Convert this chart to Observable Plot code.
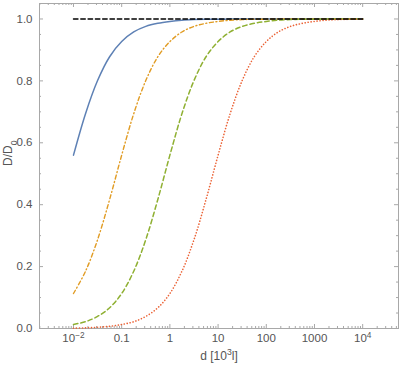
<!DOCTYPE html>
<html><head><meta charset="utf-8">
<script src="https://cdn.jsdelivr.net/npm/d3@7"></script>
<script src="https://cdn.jsdelivr.net/npm/@observablehq/plot@0.6"></script>
<style>
body{margin:0;background:#fff;}
#chart svg{display:block;}
</style></head><body><div id="chart"></div>
<script>
// d values (in 10^3 l), quarter-decade steps from 10^-2 to 10^4
const dValues = [0.01, 0.01778, 0.03162, 0.05623, 0.1, 0.1778, 0.3162, 0.5623, 1, 1.778, 3.162, 5.623, 10, 17.78, 31.62, 56.23, 100, 177.8, 316.2, 562.3, 1000, 1778, 3162, 5623, 10000];
const blueValues   = [0.560,0.694,0.801,0.878,0.927,0.958,0.976,0.986,0.992,0.996,0.998,0.999,0.999,1.000,1.000,1.000,1.000,1.000,1.000,1.000,1.000,1.000,1.000,1.000,1.000];
const orangeValues = [0.113,0.185,0.287,0.417,0.560,0.694,0.801,0.878,0.927,0.958,0.976,0.986,0.992,0.996,0.998,0.999,0.999,1.000,1.000,1.000,1.000,1.000,1.000,1.000,1.000];
const greenValues  = [0.013,0.022,0.039,0.067,0.113,0.185,0.287,0.417,0.560,0.694,0.801,0.878,0.927,0.958,0.976,0.986,0.992,0.996,0.998,0.999,0.999,1.000,1.000,1.000,1.000];
const redValues    = [0.001,0.002,0.004,0.007,0.013,0.022,0.039,0.067,0.113,0.185,0.287,0.417,0.560,0.694,0.801,0.878,0.927,0.958,0.976,0.986,0.992,0.996,0.998,0.999,0.999];
const refD = [0.01, 10000];
const refValue = [1, 1];

const xTickValues = [0.01, 0.1, 1, 10, 100, 1000, 10000];
const xTickLabels = ["10^{\u22122}", "0.1", "1", "10", "100", "1000", "10^{4}"];
const yTickValues = [0, 0.2, 0.4, 0.6, 0.8, 1.0];
const yTickLabels = ["0.0", "0.2", "0.4", "0.6", "0.8", "1.0"];
const xLabel = "d [10^{3}l]";
const yLabel = "D/D_{0}";

const W = 400, H = 368;
const mL = 39, mR = 2, mT = 3, mB = 40;
const fw = W - mL - mR, fh = H - mT - mB;

const toRows = (vals) => dValues.map((d, i) => ({d, v: vals[i]}));
const refRows = refD.map((d, i) => ({d, v: refValue[i]}));

// minor tick positions (axis decoration)
const xMinor = [];
for (let e = -3; e <= 4; e++) for (let m = 2; m <= 9; m++) {
  const t = m * Math.pow(10, e);
  if (t > 0.00198 && t < 55000) xMinor.push(t);
}
const yMinor = d3.range(0, 21).map(i => i * 0.05).filter((t, i) => i % 4 !== 0);

const tickColor = "#a8a8a8";
const labelColor = "#555";
const font = "'Liberation Sans', Arial, sans-serif";

const chart = Plot.plot({
  width: W, height: H,
  marginLeft: mL, marginRight: mR, marginTop: mT, marginBottom: mB,
  style: {fontFamily: font, background: "#fff"},
  x: {type: "log", domain: [Math.pow(10, -2.705), Math.pow(10, 4.743)]},
  y: {domain: [0, 1.05]},
  marks: [
    // ticks inside the frame (Mathematica style)
    Plot.ruleX(xTickValues, {x: d => d, insetTop: fh - 4, stroke: tickColor}),
    Plot.ruleX(xTickValues, {x: d => d, insetBottom: fh - 4, stroke: tickColor}),
    Plot.ruleX(xMinor, {x: d => d, insetTop: fh - 2, stroke: tickColor}),
    Plot.ruleX(xMinor, {x: d => d, insetBottom: fh - 2, stroke: tickColor}),
    Plot.ruleY(yTickValues, {y: d => d, insetRight: fw - 4, stroke: tickColor}),
    Plot.ruleY(yTickValues, {y: d => d, insetLeft: fw - 4, stroke: tickColor}),
    Plot.ruleY(yMinor, {y: d => d, insetRight: fw - 2, stroke: tickColor}),
    Plot.ruleY(yMinor, {y: d => d, insetLeft: fw - 2, stroke: tickColor}),
    Plot.frame({stroke: tickColor}),
    Plot.line(toRows(blueValues), {x: "d", y: "v", stroke: "#5E81B5", strokeWidth: 1.5, curve: "catmull-rom"}),
    Plot.line(toRows(orangeValues), {x: "d", y: "v", stroke: "#E19C24", strokeWidth: 1.4, strokeDasharray: "4,2.6,1,2.6", curve: "catmull-rom"}),
    Plot.line(toRows(greenValues), {x: "d", y: "v", stroke: "#8FB032", strokeWidth: 1.5, strokeDasharray: "4.5,3", curve: "catmull-rom"}),
    Plot.line(toRows(redValues), {x: "d", y: "v", stroke: "#EB6235", strokeWidth: 1.6, strokeLinecap: "round", strokeDasharray: "0.1,2.9", curve: "catmull-rom"}),
    Plot.line(refRows, {x: "d", y: "v", stroke: "#000", strokeWidth: 1.4, strokeDasharray: "4.5,2.8"}),
    Plot.axisX({ticks: xTickValues, tickFormat: d => xTickLabels[xTickValues.indexOf(d)], tickSize: 0, tickPadding: 5, fontSize: 11.5, color: labelColor, label: null}),
    Plot.axisY({ticks: yTickValues, tickFormat: d => yTickLabels[yTickValues.indexOf(d)], tickSize: 0, tickPadding: 7, fontSize: 11.5, color: labelColor, label: null}),
    Plot.text([xLabel], {text: d => d, frameAnchor: "bottom", dy: 31, fontSize: 12, fill: labelColor}),
    Plot.text([yLabel], {text: d => d, frameAnchor: "left", rotate: -90, dx: -31, fontSize: 12, fill: labelColor})
  ]
});

// rich text: ^{...} superscript, _{...} subscript
function rich(el) {
  const s = el.textContent;
  if (!/[\^_]\{/.test(s)) return;
  while (el.firstChild) el.removeChild(el.firstChild);
  const re = /([\^_])\{([^}]*)\}/g;
  let last = 0, m;
  const ns = "http://www.w3.org/2000/svg";
  while ((m = re.exec(s))) {
    if (m.index > last) el.appendChild(document.createTextNode(s.slice(last, m.index)));
    const t = document.createElementNS(ns, "tspan");
    t.setAttribute("baseline-shift", m[1] === "^" ? "super" : "sub");
    t.setAttribute("font-size", "72%");
    t.textContent = m[2];
    el.appendChild(t);
    last = re.lastIndex;
  }
  if (last < s.length) el.appendChild(document.createTextNode(s.slice(last)));
}
chart.querySelectorAll("text").forEach(rich);
chart.querySelectorAll("text").forEach(t => t.setAttribute("font-family", font));
document.getElementById("chart").appendChild(chart);
</script>
</body></html>
